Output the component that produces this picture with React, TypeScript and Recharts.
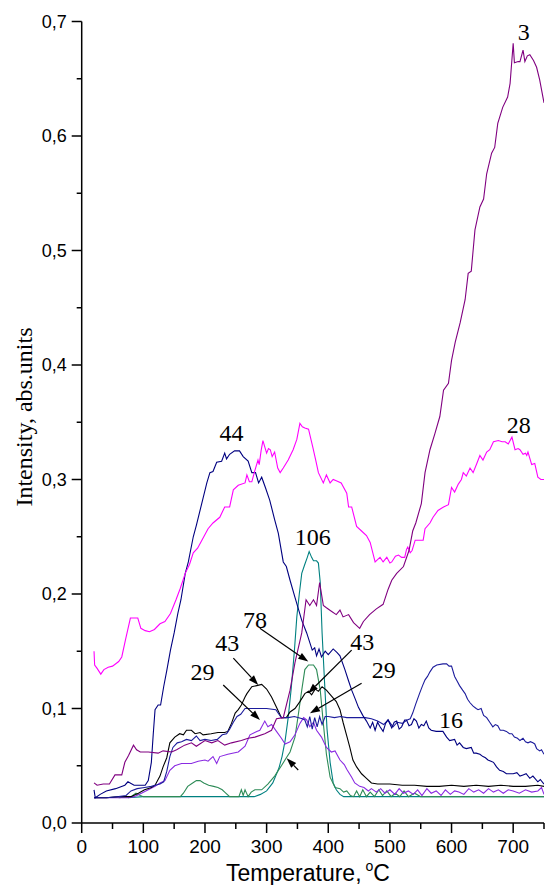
import React from "react";
import { LineChart, Line, XAxis, YAxis, ReferenceDot, ReferenceLine, Label } from "recharts";

// ---- axis ticks ----
const xTicks = [0, 50, 100, 150, 200, 250, 300, 350, 400, 450, 500, 550, 600, 650, 700, 750];
const yTicks = [0, 0.05, 0.1, 0.15, 0.2, 0.25, 0.3, 0.35, 0.4, 0.45, 0.5, 0.55, 0.6, 0.65, 0.7];

// ---- series: [temperature, intensity] ----
const s3: [number, number][] = [[20,0.035],[25,0.033],[35,0.034],[45,0.034],[54,0.042],[65,0.042],[70,0.053],[76,0.059],[84,0.068],[89,0.064],[95,0.062],[108,0.062],[124,0.061],[132,0.063],[146,0.062],[154,0.064],[167,0.068],[178,0.07],[186,0.067],[200,0.072],[211,0.07],[221,0.072],[232,0.068],[243,0.07],[259,0.072],[270,0.074],[281,0.075],[297,0.078],[308,0.081],[316,0.091],[327,0.092],[338,0.116],[346,0.14],[357,0.166],[364,0.195],[370,0.19],[376,0.195],[381,0.19],[386,0.21],[392,0.19],[397,0.188],[405,0.185],[413,0.182],[419,0.186],[424,0.18],[433,0.182],[441,0.175],[451,0.17],[457,0.176],[467,0.182],[478,0.187],[489,0.191],[497,0.204],[503,0.212],[511,0.218],[522,0.224],[531,0.238],[537,0.255],[542,0.262],[551,0.279],[557,0.306],[565,0.326],[573,0.34],[581,0.355],[587,0.378],[595,0.384],[600,0.404],[606,0.42],[614,0.437],[622,0.457],[627,0.48],[632,0.482],[638,0.518],[646,0.538],[652,0.545],[657,0.567],[665,0.585],[670,0.59],[675,0.611],[683,0.625],[691,0.634],[695,0.646],[700,0.681],[702,0.664],[708,0.665],[711,0.665],[716,0.675],[719,0.665],[723,0.67],[727,0.671],[733,0.666],[738,0.66],[743,0.649],[750,0.629]];

const s28: [number, number][] = [[20,0.15],[21,0.138],[25,0.135],[31,0.13],[36,0.134],[43,0.136],[50,0.137],[60,0.141],[65,0.145],[71,0.16],[79,0.179],[91,0.179],[96,0.17],[103,0.168],[110,0.167],[118,0.169],[127,0.174],[135,0.176],[144,0.183],[153,0.195],[160,0.205],[168,0.218],[175,0.226],[181,0.236],[188,0.24],[195,0.247],[205,0.257],[213,0.262],[224,0.267],[232,0.276],[240,0.276],[246,0.291],[254,0.295],[265,0.297],[268,0.304],[272,0.298],[276,0.298],[281,0.308],[286,0.317],[288,0.313],[291,0.325],[294,0.334],[300,0.323],[303,0.327],[306,0.326],[309,0.32],[313,0.324],[318,0.31],[322,0.306],[327,0.31],[335,0.317],[343,0.326],[349,0.335],[354,0.349],[358,0.346],[362,0.345],[368,0.344],[375,0.328],[380,0.316],[384,0.306],[392,0.297],[397,0.304],[403,0.297],[408,0.3],[413,0.299],[421,0.297],[430,0.288],[433,0.276],[438,0.276],[446,0.259],[454,0.255],[462,0.251],[468,0.245],[476,0.228],[480,0.23],[484,0.232],[489,0.228],[495,0.232],[500,0.227],[503,0.228],[509,0.233],[514,0.234],[519,0.232],[524,0.232],[527,0.239],[529,0.241],[533,0.236],[536,0.238],[541,0.247],[554,0.247],[557,0.257],[565,0.262],[570,0.267],[578,0.273],[587,0.276],[595,0.278],[600,0.293],[605,0.289],[611,0.296],[616,0.3],[619,0.306],[624,0.303],[630,0.31],[635,0.306],[641,0.314],[646,0.321],[651,0.317],[657,0.324],[662,0.326],[668,0.333],[676,0.334],[682,0.333],[687,0.333],[692,0.331],[698,0.337],[703,0.326],[708,0.327],[711,0.326],[716,0.322],[720,0.323],[722,0.321],[724,0.324],[730,0.313],[735,0.314],[740,0.302],[745,0.3],[750,0.3]];

const s44: [number, number][] = [[20,0.029],[22,0.022],[30,0.025],[40,0.028],[55,0.03],[70,0.033],[75,0.036],[85,0.033],[103,0.033],[108,0.037],[113,0.053],[116,0.077],[119,0.099],[124,0.103],[128,0.103],[133,0.119],[138,0.133],[144,0.151],[150,0.166],[156,0.183],[161,0.195],[168,0.218],[173,0.228],[181,0.25],[186,0.26],[192,0.273],[197,0.284],[203,0.297],[208,0.306],[213,0.307],[219,0.315],[227,0.316],[232,0.323],[235,0.318],[240,0.322],[248,0.325],[256,0.325],[262,0.32],[270,0.316],[276,0.306],[282,0.306],[287,0.297],[292,0.302],[298,0.293],[305,0.282],[313,0.265],[319,0.253],[327,0.228],[332,0.224],[338,0.212],[346,0.197],[357,0.177],[365,0.166],[374,0.151],[378,0.153],[381,0.146],[385,0.152],[389,0.145],[395,0.15],[400,0.147],[408,0.152],[414,0.149],[419,0.146],[427,0.134],[433,0.124],[438,0.116],[444,0.108],[449,0.101],[456,0.094],[462,0.089],[468,0.083],[472,0.088],[476,0.081],[480,0.088],[484,0.084],[489,0.08],[493,0.087],[497,0.09],[503,0.083],[507,0.088],[511,0.089],[515,0.082],[519,0.084],[524,0.09],[527,0.09],[531,0.085],[535,0.086],[539,0.091],[543,0.089],[547,0.083],[551,0.086],[555,0.085],[559,0.089],[563,0.083],[567,0.081],[575,0.08],[586,0.08],[592,0.075],[597,0.072],[605,0.073],[609,0.068],[613,0.07],[619,0.066],[624,0.065],[632,0.066],[636,0.061],[640,0.061],[646,0.06],[651,0.058],[655,0.057],[659,0.055],[664,0.054],[668,0.053],[673,0.049],[678,0.046],[684,0.045],[689,0.043],[700,0.043],[706,0.044],[711,0.041],[716,0.042],[721,0.043],[727,0.039],[732,0.041],[740,0.036],[744,0.038],[750,0.034]];

const s16: [number, number][] = [[20,0.022],[40,0.022],[60,0.023],[72,0.024],[80,0.028],[90,0.03],[102,0.031],[113,0.032],[119,0.033],[127,0.034],[133,0.036],[138,0.045],[143,0.058],[148,0.066],[155,0.07],[162,0.071],[170,0.073],[178,0.072],[186,0.076],[192,0.072],[200,0.073],[210,0.072],[220,0.073],[228,0.077],[235,0.078],[240,0.082],[246,0.088],[252,0.093],[258,0.095],[265,0.1],[275,0.1],[285,0.1],[300,0.1],[315,0.099],[320,0.095],[324,0.092],[335,0.092],[345,0.093],[352,0.092],[358,0.091],[362,0.09],[366,0.084],[370,0.093],[374,0.082],[378,0.092],[382,0.084],[386,0.093],[390,0.086],[395,0.093],[400,0.093],[410,0.092],[420,0.093],[430,0.092],[440,0.092],[450,0.092],[460,0.092],[470,0.091],[480,0.089],[490,0.086],[497,0.09],[505,0.084],[512,0.088],[520,0.087],[528,0.09],[533,0.091],[537,0.096],[542,0.104],[548,0.113],[553,0.12],[557,0.125],[561,0.128],[565,0.132],[570,0.136],[576,0.138],[586,0.139],[592,0.139],[596,0.137],[600,0.137],[605,0.128],[609,0.124],[613,0.12],[618,0.116],[622,0.113],[626,0.108],[630,0.105],[635,0.102],[640,0.1],[643,0.099],[648,0.1],[652,0.094],[657,0.092],[662,0.088],[667,0.084],[671,0.086],[675,0.085],[679,0.081],[684,0.081],[689,0.08],[694,0.078],[698,0.078],[702,0.075],[707,0.074],[711,0.072],[716,0.074],[720,0.071],[724,0.07],[728,0.071],[732,0.07],[735,0.069],[738,0.065],[743,0.063],[746,0.064],[750,0.06]];

const s43: [number, number][] = [[20,0.022],[40,0.022],[60,0.023],[80,0.023],[92,0.026],[102,0.029],[113,0.031],[119,0.033],[127,0.041],[132,0.049],[138,0.057],[143,0.07],[151,0.075],[159,0.078],[165,0.077],[170,0.081],[178,0.081],[184,0.078],[192,0.079],[197,0.077],[210,0.078],[221,0.079],[232,0.079],[237,0.08],[243,0.087],[249,0.096],[254,0.099],[259,0.103],[265,0.11],[268,0.113],[276,0.119],[284,0.12],[292,0.121],[300,0.117],[308,0.11],[316,0.101],[324,0.092],[332,0.092],[338,0.097],[346,0.1],[354,0.106],[362,0.113],[368,0.115],[373,0.112],[379,0.117],[384,0.115],[390,0.119],[397,0.116],[405,0.111],[413,0.106],[419,0.099],[424,0.088],[430,0.076],[435,0.066],[440,0.055],[446,0.049],[454,0.043],[462,0.039],[470,0.035],[480,0.034],[500,0.034],[520,0.033],[540,0.033],[560,0.032],[580,0.032],[600,0.033],[620,0.032],[640,0.033],[660,0.032],[680,0.033],[700,0.032],[720,0.032],[740,0.033],[750,0.032]];

const s29: [number, number][] = [[20,0.022],[40,0.022],[60,0.022],[75,0.022],[85,0.023],[97,0.026],[108,0.029],[119,0.032],[127,0.035],[135,0.037],[143,0.046],[151,0.05],[162,0.052],[178,0.052],[189,0.054],[200,0.055],[205,0.054],[213,0.058],[219,0.052],[224,0.058],[237,0.06],[254,0.062],[265,0.067],[273,0.077],[284,0.08],[289,0.081],[297,0.089],[302,0.084],[308,0.086],[316,0.08],[324,0.074],[330,0.069],[338,0.071],[346,0.077],[354,0.087],[360,0.092],[365,0.09],[370,0.084],[376,0.088],[381,0.081],[389,0.075],[397,0.066],[405,0.062],[411,0.063],[419,0.055],[426,0.051],[430,0.047],[438,0.04],[443,0.035],[451,0.032],[458,0.031],[465,0.028],[470,0.03],[478,0.027],[485,0.03],[492,0.026],[500,0.029],[508,0.025],[515,0.03],[522,0.026],[530,0.028],[538,0.025],[545,0.029],[552,0.024],[560,0.03],[567,0.026],[575,0.028],[583,0.024],[590,0.029],[598,0.025],[605,0.028],[612,0.027],[620,0.025],[628,0.03],[636,0.027],[644,0.029],[652,0.026],[660,0.03],[668,0.027],[676,0.029],[684,0.026],[692,0.029],[700,0.028],[710,0.026],[720,0.029],[730,0.027],[740,0.028],[746,0.031],[750,0.025]];

const s78: [number, number][] = [[60,0.022],[80,0.023],[88,0.026],[95,0.024],[100,0.023],[150,0.023],[160,0.023],[165,0.026],[172,0.032],[180,0.035],[186,0.037],[192,0.037],[198,0.035],[206,0.033],[214,0.032],[221,0.031],[228,0.029],[232,0.027],[240,0.023],[255,0.023],[259,0.029],[262,0.024],[265,0.029],[270,0.023],[275,0.027],[281,0.029],[286,0.029],[292,0.029],[302,0.034],[313,0.041],[324,0.05],[332,0.057],[338,0.062],[346,0.075],[351,0.093],[357,0.116],[362,0.134],[368,0.138],[376,0.138],[381,0.134],[387,0.116],[392,0.087],[397,0.06],[403,0.04],[411,0.031],[419,0.03],[425,0.027],[430,0.028],[436,0.024],[441,0.023],[446,0.028],[451,0.023],[456,0.029],[462,0.023],[468,0.027],[475,0.023],[482,0.029],[488,0.024],[495,0.028],[502,0.023],[509,0.026],[516,0.023],[523,0.028],[530,0.023],[540,0.026],[550,0.023],[600,0.023],[700,0.023],[750,0.023]];

const s106: [number, number][] = [[75,0.022],[100,0.023],[200,0.023],[280,0.023],[290,0.025],[300,0.028],[310,0.035],[320,0.048],[325,0.058],[330,0.072],[335,0.092],[340,0.118],[345,0.15],[349,0.18],[353,0.2],[357,0.218],[362,0.226],[366,0.232],[369,0.237],[373,0.232],[376,0.229],[381,0.229],[384,0.227],[387,0.21],[390,0.166],[394,0.123],[398,0.082],[403,0.053],[408,0.035],[413,0.029],[419,0.025],[425,0.023],[500,0.023],[600,0.023],[700,0.023],[750,0.023]];

// ---- annotations (label text and anchor in data units) ----
const labelTexts = ["3", "28", "44", "106", "78", "43", "29", "43", "29", "16"];
const labelT = [717, 709, 243, 375, 281, 236, 196, 455, 490, 599];
const labelV = [0.684, 0.341, 0.334, 0.243, 0.170, 0.150, 0.125, 0.151, 0.127, 0.083];

// arrows: [t1, v1, t2, v2] (tail -> head)
const arrows: [number, number, number, number][] = [
  [289, 0.170, 367.5, 0.141],
  [246, 0.144, 286.4, 0.1205],
  [229.6, 0.1205, 289.2, 0.090],
  [437.9, 0.151, 367.5, 0.1133],
  [454.1, 0.122, 370.3, 0.0958],
  [351.3, 0.0463, 332.5, 0.0565],
];

const toPts = (a: [number, number][]) => a.map(([t, v]) => ({ t, v }));

const seriesList = [
  { key: "s106", data: s106, color: "#008080" },
  { key: "s78", data: s78, color: "#2E8B57" },
  { key: "s29", data: s29, color: "#8A2BE2" },
  { key: "s43", data: s43, color: "#000000" },
  { key: "s16", data: s16, color: "#1C1C9C" },
  { key: "s44", data: s44, color: "#000080" },
  { key: "s28", data: s28, color: "#FF00FF" },
  { key: "s3", data: s3, color: "#800080" },
];

const SANS = "Liberation Sans, Arimo, Arial, sans-serif";
const SERIF = "Liberation Serif, Tinos, Times New Roman, DejaVu Serif, serif";

const XTick = (p: any) => {
  const { x, y, payload } = p;
  const major = Math.round(payload.value) % 100 === 0;
  return (
    <g>
      <line x1={x} x2={x} y1={y} y2={y + (major ? 10 : 6)} stroke="#000" strokeWidth={1.5} />
      {major && (
        <text x={x} y={y + 30} textAnchor="middle" fill="#000" style={{ fontFamily: SANS, fontSize: 19 }}>
          {payload.value}
        </text>
      )}
    </g>
  );
};

const YTick = (p: any) => {
  const { x, y, payload } = p;
  const major = Math.round(payload.value * 100) % 10 === 0;
  return (
    <g>
      <line x1={x} x2={x - (major ? 10 : 5)} y1={y} y2={y} stroke="#000" strokeWidth={1.5} />
      {major && (
        <text x={x - 15} y={y} dy="0.36em" textAnchor="end" fill="#000" style={{ fontFamily: SANS, fontSize: 18 }}>
          {payload.value.toFixed(1).replace(".", ",")}
        </text>
      )}
    </g>
  );
};

const ArrowShape = (p: any) => {
  const { x1, y1, x2, y2 } = p;
  if ([x1, y1, x2, y2].some((v) => typeof v !== "number" || isNaN(v))) return <g />;
  const dx = x2 - x1;
  const dy = y2 - y1;
  const len = Math.sqrt(dx * dx + dy * dy) || 1;
  const ux = dx / len;
  const uy = dy / len;
  const hl = 10;
  const hw = 3.5;
  const bx = x2 - ux * hl;
  const by = y2 - uy * hl;
  const pts = `${x2},${y2} ${bx - uy * hw},${by + ux * hw} ${bx + uy * hw},${by - ux * hw}`;
  return (
    <g>
      <line x1={x1} y1={y1} x2={bx} y2={by} stroke="#000" strokeWidth={1.2} />
      <polygon points={pts} fill="#000" />
    </g>
  );
};

export default function App() {
  return (
    <div style={{ position: "absolute", left: 0, top: 0, width: 547, height: 885, background: "#fff" }}>
      <LineChart width={547} height={885} margin={{ top: 21.5, right: 3, left: 11.7, bottom: 22 }}>
        <XAxis
          type="number"
          dataKey="t"
          domain={[0, 750]}
          ticks={xTicks}
          interval={0}
          allowDataOverflow
          height={40}
          tickSize={0}
          tickMargin={0}
          tickLine={false}
          tick={<XTick />}
          axisLine={{ stroke: "#000", strokeWidth: 1.5 }}
        >
          <Label
            content={() => (
              <text x={308} y={881} textAnchor="middle" fill="#000" style={{ fontFamily: SANS, fontSize: 23 }}>
                Temperature,
                <tspan dx={4} dy={-10} style={{ fontSize: 14 }}>o</tspan>
                <tspan dy={10}>C</tspan>
              </text>
            )}
          />
        </XAxis>
        <YAxis
          type="number"
          domain={[0, 0.7]}
          ticks={yTicks}
          interval={0}
          allowDataOverflow
          width={70}
          tickSize={0}
          tickMargin={0}
          tickLine={false}
          tick={<YTick />}
          axisLine={{ stroke: "#000", strokeWidth: 1.5 }}
        >
          <Label
            content={() => (
              <text
                transform="rotate(-90)"
                x={-417}
                y={32}
                textAnchor="middle"
                fill="#000"
                style={{ fontFamily: SERIF, fontSize: 24 }}
              >
                Intensity, abs.units
              </text>
            )}
          />
        </YAxis>
        {seriesList.map((s) => (
          <Line
            key={s.key}
            data={toPts(s.data)}
            dataKey="v"
            type="linear"
            stroke={s.color}
            strokeWidth={1.1}
            dot={false}
            activeDot={false}
            isAnimationActive={false}
          />
        ))}
        {arrows.map((a, i) => (
          <ReferenceLine
            key={"ar" + i}
            segment={[{ x: a[0], y: a[1] }, { x: a[2], y: a[3] }]}
            shape={ArrowShape}
            ifOverflow="visible"
          />
        ))}
        {labelTexts.map((txt, i) => (
          <ReferenceDot
            key={"lb" + i}
            x={labelT[i]}
            y={labelV[i]}
            r={1}
            ifOverflow="visible"
            shape={(p: any) => (
              <text x={p.cx} y={p.cy} textAnchor="middle" fill="#000" style={{ fontFamily: SERIF, fontSize: 24 }}>
                {txt}
              </text>
            )}
          />
        ))}
      </LineChart>
    </div>
  );
}
